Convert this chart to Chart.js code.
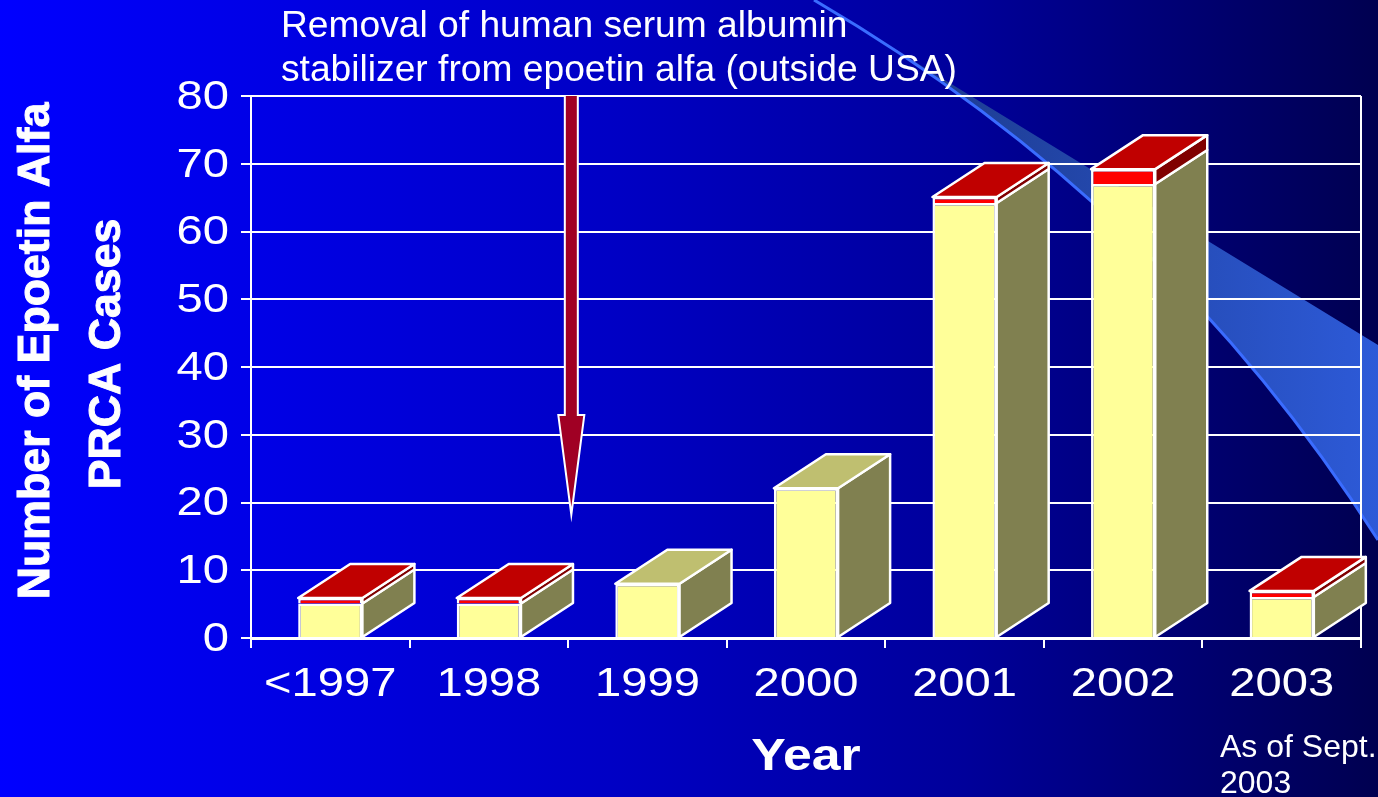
<!DOCTYPE html>
<html>
<head>
<meta charset="utf-8">
<style>
  html, body { margin: 0; padding: 0; background: #000080; overflow: hidden; }
  canvas { display: block; }
</style>
<script src="https://cdn.jsdelivr.net/npm/chart.js@4"></script>
</head>
<body>
<canvas id="prcaChart" width="1378" height="797"></canvas>
<script>
// values
const categories = ['<1997', '1998', '1999', '2000', '2001', '2002', '2003'];
const withHsa = [5.1, 5.1, 8, 22.1, 64.2, 67, 6.05];
const topCases = [0.8, 0.8, 0, 0, 0.9, 2.2, 0.9];
const yTicks = [0, 10, 20, 30, 40, 50, 60, 70, 80];
const noteLines = ['Removal of human serum albumin', 'stabilizer from epoetin alfa (outside USA)'];
const asOfLines = ['As of Sept.', '2003'];
const yTitleLines = ['Number of Epoetin Alfa', 'PRCA Cases'];

const depthX = 52, depthY = 34;
const axisStretch = 1.15; // the slide's axis text is Arial pulled wider

function face(ctx, pts, fill) {
  ctx.beginPath();
  pts.forEach((p, i) => i ? ctx.lineTo(p[0], p[1]) : ctx.moveTo(p[0], p[1]));
  ctx.closePath();
  ctx.fillStyle = fill;
  ctx.fill();
  ctx.lineWidth = 2.5;
  ctx.lineJoin = 'round';
  ctx.strokeStyle = '#fff';
  ctx.stroke();
}

// slide background + swoosh, behind the grid
const backdrop = {
  id: 'backdrop',
  beforeDraw(chart) {
    const ctx = chart.ctx, w = chart.width;
    const bg = ctx.createLinearGradient(0, 0, w, 0);
    bg.addColorStop(0, '#0000ff');
    bg.addColorStop(0.45, '#0000c4');
    bg.addColorStop(0.7, '#00009a');
    bg.addColorStop(1, '#000050');
    ctx.fillStyle = bg;
    ctx.fillRect(0, 0, w, chart.height);

    const sw = ctx.createLinearGradient(900, 0, w, 0);
    sw.addColorStop(0, '#1c3a8c');
    sw.addColorStop(1, '#2d5ad8');
    ctx.beginPath();
    ctx.moveTo(814, 0);
    ctx.lineTo(w, 345);
    ctx.lineTo(w, 540);
    ctx.quadraticCurveTo(1165, 205, 814, 0);
    ctx.closePath();
    ctx.fillStyle = sw;
    ctx.fill();
    ctx.beginPath();
    ctx.moveTo(w, 540);
    ctx.quadraticCurveTo(1165, 205, 814, 0);
    ctx.strokeStyle = '#3a6cff';
    ctx.lineWidth = 3;
    ctx.stroke();
  }
};

// widen the tick labels and the x title while the scales are drawn
const wideAxisText = {
  id: 'wideAxisText',
  beforeDraw(chart) {
    const ctx = chart.ctx;
    const plain = ctx.fillText;
    ctx.fillText = function (text, x, y) {
      ctx.save();
      ctx.translate(x, y + 1.5);
      ctx.scale(axisStretch, 1);
      plain.call(ctx, text, 0, 0);
      ctx.restore();
    };
    chart.$plainFillText = plain;
  },
  beforeDatasetsDraw(chart) {
    chart.ctx.fillText = chart.$plainFillText;
  }
};

// side and top faces of the boxes, from the bar elements
const boxes = {
  id: 'boxes',
  beforeDatasetsDraw(chart) {
    const ctx = chart.ctx, area = chart.chartArea;
    const low = chart.getDatasetMeta(0).data;
    const high = chart.getDatasetMeta(1).data;

    // right edge of the frame
    ctx.save();
    ctx.strokeStyle = '#fff';
    ctx.lineWidth = 2;
    ctx.beginPath();
    ctx.moveTo(area.right, area.top);
    ctx.lineTo(area.right, area.bottom);
    ctx.stroke();

    categories.forEach((c, i) => {
      const a = low[i], b = high[i];
      const hw = a.width / 2;
      const r = a.x + hw, l = a.x - hw;
      const hasTop = topCases[i] > 0;
      face(ctx, [[r, a.base], [r + depthX, a.base - depthY], [r + depthX, a.y - depthY], [r, a.y]], '#808050');
      if (hasTop) {
        face(ctx, [[r, a.y], [r + depthX, a.y - depthY], [r + depthX, b.y - depthY], [r, b.y]], '#800000');
      }
      const top = hasTop ? b.y : a.y;
      face(ctx, [[l, top], [l + depthX, top - depthY], [r + depthX, top - depthY], [r, top]], hasTop ? '#c00000' : '#bfbf70');
    });
    ctx.restore();
  }
};

// arrow and the text notes
const notes = {
  id: 'notes',
  afterDatasetsDraw(chart) {
    const ctx = chart.ctx;
    const x = chart.scales.x, y = chart.scales.y;
    const cx = x.getPixelForValue(1.52);
    const yTop = y.getPixelForValue(80), yHead = y.getPixelForValue(32.9), yTip = y.getPixelForValue(18.2);
    ctx.save();
    ctx.beginPath();
    ctx.moveTo(cx - 6.5, yTop);
    ctx.lineTo(cx - 6.5, yHead);
    ctx.lineTo(cx - 13, yHead);
    ctx.lineTo(cx, yTip);
    ctx.lineTo(cx + 13, yHead);
    ctx.lineTo(cx + 6.5, yHead);
    ctx.lineTo(cx + 6.5, yTop);
    ctx.fillStyle = '#a00024';
    ctx.fill();
    ctx.strokeStyle = '#fff';
    ctx.lineWidth = 2;
    ctx.stroke();

    ctx.fillStyle = '#fff';
    ctx.textAlign = 'left';
    ctx.textBaseline = 'alphabetic';
    ctx.font = '37.2px "Liberation Sans"';
    ctx.fillText(noteLines[0], 281, 37);
    ctx.fillText(noteLines[1], 281, 81);
    ctx.font = '32px "Liberation Sans"';
    ctx.fillText(asOfLines[0], 1220, 757);
    ctx.fillText(asOfLines[1], 1220, 793);

    ctx.font = 'bold 44.7px "Liberation Sans"';
    ctx.textAlign = 'center';
    ctx.strokeStyle = '#fff';
    ctx.lineWidth = 1;
    [[49, 351], [120, 354]].forEach((p, i) => {
      ctx.save();
      ctx.translate(p[0], p[1]);
      ctx.rotate(-Math.PI / 2);
      ctx.fillText(yTitleLines[i], 0, 0);
      ctx.strokeText(yTitleLines[i], 0, 0);
      ctx.restore();
    });
    ctx.restore();
  }
};

new Chart(document.getElementById('prcaChart'), {
  type: 'bar',
  data: {
    labels: categories,
    datasets: [
      { label: 'Cases', data: withHsa, backgroundColor: '#ffff99', borderColor: '#fff', borderWidth: 2.5 },
      { label: 'Cases (top)', data: topCases, backgroundColor: '#ff0000', borderColor: '#fff', borderWidth: 2.5 }
    ]
  },
  options: {
    responsive: false,
    animation: false,
    layout: { padding: { top: 96, right: 17, left: 0, bottom: 0 } },
    plugins: { legend: { display: false }, tooltip: { enabled: false } },
    datasets: { bar: { barPercentage: 0.405, categoryPercentage: 1 } },
    scales: {
      x: {
        stacked: true,
        afterFit: axis => { axis.height = 159; },
        grid: { drawOnChartArea: false, color: '#fff', lineWidth: 2, tickLength: 10, tickColor: '#fff' },
        border: { color: '#fff', width: 3 },
        ticks: { color: '#fff', font: { family: 'Liberation Sans', size: 41 }, padding: 11, autoSkip: false, maxRotation: 0 },
        title: {
          display: true, text: 'Year', color: '#fff',
          font: { family: 'Liberation Sans', size: 45, weight: 'bold' },
          padding: { top: 0, bottom: 14 }
        }
      },
      y: {
        stacked: true,
        min: 0,
        max: 80,
        afterFit: axis => { axis.width = 251; },
        afterBuildTicks: axis => { axis.ticks = yTicks.map(v => ({ value: v })); },
        grid: { color: '#fff', lineWidth: 2, tickLength: 10, tickColor: '#fff' },
        border: { color: '#fff', width: 2 },
        ticks: { color: '#fff', font: { family: 'Liberation Sans', size: 41 }, padding: 12 }
      }
    }
  },
  plugins: [backdrop, wideAxisText, boxes, notes]
});
</script>
</body>
</html>
